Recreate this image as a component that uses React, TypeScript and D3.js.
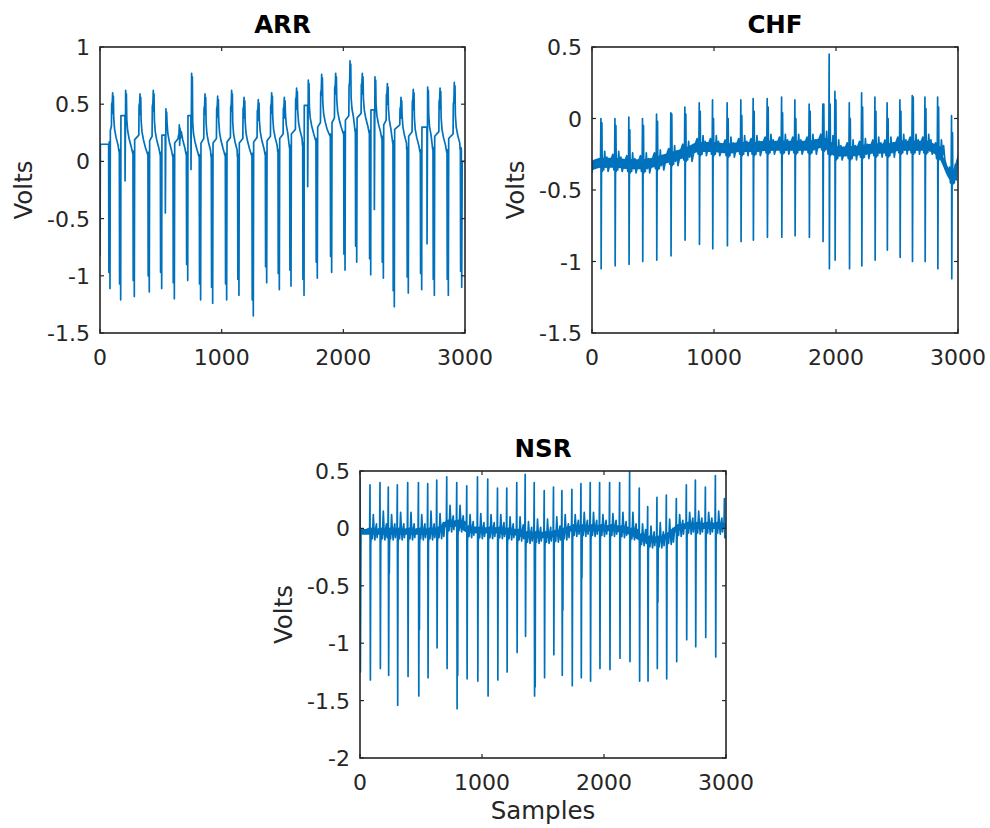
import React from 'react';
import * as d3 from 'd3';

type Pt = [number, number];

const BLUE = '#0072BD';
const INK = '#262626';
const FONT = '"DejaVu Sans", sans-serif';

const xTicks = [0, 1000, 2000, 3000];
const arrYTicks = [-1.5, -1, -0.5, 0, 0.5, 1];
const chfYTicks = [-1.5, -1, -0.5, 0, 0.5];
const nsrYTicks = [-2, -1.5, -1, -0.5, 0, 0.5];

// ---- ARR: one entry per beat (trough first, then the positive peak)
const arrStartV = -0.83;
const arrEndV = 0.0;
const arrTroughAt = [82, 170, 282, 405, 507, 611, 721, 827, 926, 1041, 1142, 1260, 1370, 1474, 1570, 1677, 1786, 1904, 2014, 2110, 2225, 2329, 2419, 2534, 2644, 2748, 2863, 2973];
const arrTroughV = [-1.11, -1.21, -1.18, -1.14, -1.11, -1.2, -1.04, -1.21, -1.24, -1.21, -1.17, -1.35, -1.06, -1.12, -1.09, -1.17, -1.02, -0.97, -0.95, -0.88, -0.99, -1.02, -1.27, -1.15, -1.12, -1.17, -1.17, -1.1];
const arrPeakAt = [104, 211, 329, 438, 542, 652, 753, 863, 967, 1082, 1184, 1301, 1411, 1515, 1616, 1712, 1822, 1937, 2055, 2156, 2260, 2362, 2474, 2575, 2693, 2795, 2912];
const arrPeakV = [0.6, 0.62, 0.59, 0.62, 0.46, 0.32, 0.77, 0.59, 0.57, 0.62, 0.56, 0.54, 0.6, 0.56, 0.64, 0.71, 0.76, 0.77, 0.88, 0.77, 0.74, 0.68, 0.56, 0.63, 0.65, 0.64, 0.69];
const arrNotchHi: (number | null)[] = [null, 0.4, null, null, 0.23, null, 0.4, null, null, null, null, null, null, null, null, 0.49, null, null, null, null, 0.45, null, null, null, 0.3, null, null, null];
const arrNotchLo: (number | null)[] = [null, -0.17, null, null, -0.45, null, -0.07, null, null, null, null, null, null, null, null, -0.22, null, null, null, null, -0.42, null, null, null, -0.72, null, null, null];
const arrRest = [0.15, 0.08, 0.07, 0.06, 0.06, 0.04, 0.06, 0.04, 0.04, 0.05, 0.04, 0.05, 0.06, 0.08, 0.12, 0.14, 0.18, 0.22, 0.24, 0.26, 0.25, 0.2, 0.16, 0.1, 0.08, 0.1, 0.08, 0.1];

// ---- CHF
const chfStartV = -0.38;
const chfEndV = -0.28;
const chfBeatAt = [74, 189, 303, 415, 530, 647, 762, 880, 989, 1109, 1221, 1322, 1437, 1555, 1664, 1781, 1893, 1945, 1992, 2110, 2211, 2320, 2420, 2525, 2626, 2730, 2834, 2948];
const chfPeakV = [0.0, 0.0, 0.01, 0.0, 0.03, 0.04, 0.08, 0.11, 0.13, 0.11, 0.13, 0.14, 0.14, 0.15, 0.13, 0.1, 0.1, 0.45, 0.19, 0.11, 0.18, 0.15, 0.11, 0.13, 0.16, 0.15, 0.15, 0.02];
const chfSecondV = [-0.03, -0.05, -0.08, -0.05, -0.02, 0.03, 0.03, 0.05, 0.0, 0.0, 0.02, 0.05, 0.08, 0.04, 0.0, 0.05, 0.1, 0.1, 0.13, 0.0, 0.08, 0.05, 0.0, 0.05, 0.15, 0.07, 0.08, -0.1];
const chfTroughV = [-1.05, -1.03, -1.02, -1.0, -0.99, -0.96, -0.85, -0.88, -0.91, -0.89, -0.86, -0.85, -0.83, -0.83, -0.82, -0.83, -0.86, -1.05, -0.99, -1.05, -1.03, -0.99, -0.92, -0.97, -1.0, -1.0, -1.05, -1.12];
const chfBase = [-0.31, -0.31, -0.32, -0.32, -0.3, -0.27, -0.24, -0.2, -0.2, -0.21, -0.2, -0.2, -0.19, -0.19, -0.19, -0.19, -0.17, -0.2, -0.23, -0.23, -0.22, -0.21, -0.21, -0.19, -0.19, -0.19, -0.23, -0.4];

// ---- NSR
const nsrStartHi = 0.45;
const nsrStartLo = -1.25;
const nsrBeatAt = [82, 164, 232, 306, 391, 479, 555, 629, 711, 793, 875, 963, 1047, 1127, 1203, 1285, 1354, 1428, 1510, 1586, 1655, 1737, 1811, 1887, 1964, 2046, 2128, 2210, 2289, 2358, 2434, 2511, 2593, 2675, 2749, 2831, 2913, 2987];
const nsrPeakV = [0.38, 0.4, 0.36, 0.38, 0.4, 0.4, 0.39, 0.42, 0.45, 0.4, 0.37, 0.45, 0.43, 0.35, 0.35, 0.4, 0.47, 0.4, 0.33, 0.36, 0.33, 0.34, 0.39, 0.4, 0.4, 0.4, 0.4, 0.5, 0.35, 0.19, 0.27, 0.29, 0.26, 0.38, 0.42, 0.36, 0.46, 0.26];
const nsrTroughV = [-1.32, -1.22, -1.28, -1.54, -1.29, -1.46, -1.3, -1.04, -1.22, -1.57, -1.31, -1.33, -1.46, -1.32, -1.25, -1.08, -0.94, -1.46, -1.3, -1.1, -1.28, -1.37, -1.3, -1.33, -1.22, -1.23, -1.13, -1.16, -1.33, -1.33, -1.22, -1.31, -1.16, -0.97, -1.03, -0.95, -1.12, -0.08];
const nsrNotch: (number | null)[] = [null, null, -0.39, null, null, -0.88, null, null, null, -1.28, null, null, null, null, null, null, null, -1.38, null, null, -0.71, null, -0.43, null, null, null, null, null, null, null, -0.64, null, null, null, null, null, null, null];
const nsrBase = [-0.03, -0.03, -0.03, -0.03, -0.03, -0.03, -0.03, -0.02, 0.04, 0.04, -0.01, -0.02, -0.02, -0.02, -0.03, -0.04, -0.06, -0.06, -0.06, -0.05, -0.03, 0.0, 0.0, 0.0, 0.0, 0.0, -0.01, -0.03, -0.08, -0.1, -0.1, -0.07, 0.0, 0.02, 0.02, 0.02, 0.02, 0.02];
const nsrT = [0.12, 0.15, 0.12, 0.14, 0.14, 0.12, 0.15, 0.13, 0.2, 0.2, 0.12, 0.13, 0.12, 0.12, 0.1, 0.1, 0.06, 0.08, 0.08, 0.1, 0.12, 0.12, 0.14, 0.14, 0.12, 0.13, 0.14, 0.14, 0.04, 0.02, 0.05, 0.08, 0.12, 0.14, 0.15, 0.14, 0.15, 0.1];

function arrSeries(): Pt[] {
  const pts: Pt[] = [[0, arrStartV], [3, arrRest[0]]];
  arrTroughAt.forEach((t, i) => {
    const r0 = arrRest[i];
    const tv = arrTroughV[i];
    // the drop is drawn twice, a few samples apart, as the trace shows
    pts.push([t - 11, r0], [t - 9, tv + 0.14], [t - 6, r0 + 0.02], [t - 3, r0], [t, tv]);
    if (i >= arrPeakAt.length) {
      pts.push([t + 4, arrEndV], [3000, arrEndV]);
      return;
    }
    const p = arrPeakAt[i];
    const pv = arrPeakV[i];
    const hi = arrNotchHi[i];
    if (hi !== null) {
      pts.push([t + 2, hi], [p - 6, hi], [p - 5, arrNotchLo[i] as number]);
    } else {
      pts.push([t + 3, r0 + 0.12], [p - 10, r0 + 0.16], [p - 8, Math.min(pv - 0.1, r0 + 0.42)], [p - 3, Math.min(pv - 0.08, r0 + 0.45)]);
    }
    const r1 = arrRest[i + 1];
    const limit = arrTroughAt[i + 1] - 13;
    pts.push([p, pv], [p + 3, pv - 0.18], [p + 6, pv - 0.03]);
    const tail: Pt[] = [[p + 9, Math.min(pv - 0.12, r1 + 0.3)], [p + 16, r1 + 0.2], [p + 28, r1 + 0.13], [p + 45, r1 + 0.06]];
    tail.forEach(q => { if (q[0] < limit) pts.push(q); });
    pts.push([limit, r1]);
  });
  return pts;
}

function chfSeries(): Pt[] {
  const pts: Pt[] = [[0, chfStartV], [4, chfBase[0]]];
  chfBeatAt.forEach((s, i) => {
    const b = chfBase[i];
    const last = i + 1 === chfBeatAt.length;
    const next = last ? 3000 : chfBeatAt[i + 1];
    const nb = last ? chfEndV : chfBase[i + 1];
    pts.push([s - 4, b], [s - 1, chfPeakV[i]], [s + 1, chfTroughV[i]], [s + 4, b], [s + 7, chfSecondV[i]], [s + 10, b - 0.06]);
    const tail: Pt[] = [
      [s + 16, b + 0.03], [s + 22, b - 0.05], [s + 30, b + 0.08], [s + 38, b - 0.03],
      [s + 48, b + 0.04], [s + 58, b - 0.06], [next - 30, nb + 0.03], [next - 18, nb + 0.06], [next - 10, nb - 0.05],
    ];
    tail.forEach(q => {
      if (q[0] > pts[pts.length - 1][0] + 3 && q[0] < next - 6) pts.push(q);
    });
    if (last) pts.push([3000, chfEndV]);
  });
  return pts;
}

function nsrSeries(): Pt[] {
  const pts: Pt[] = [[0, nsrStartHi], [3, nsrStartLo], [8, nsrBase[0]]];
  nsrBeatAt.forEach((s, i) => {
    const b = nsrBase[i];
    const last = i + 1 === nsrBeatAt.length;
    const next = last ? 3000 : nsrBeatAt[i + 1];
    pts.push([s - 3, b + 0.03], [s, nsrPeakV[i]], [s + 3, nsrTroughV[i]]);
    if (last) { pts.push([3000, nsrTroughV[i]]); return; }
    pts.push([s + 6, b - 0.1]);
    const n = nsrNotch[i];
    if (n !== null) pts.push([s + 8, n], [s + 10, b - 0.12]);
    const tail: Pt[] = [
      [s + 14, b + 0.03], [s + 19, b - 0.06], [s + 27, nsrT[i]], [s + 33, b + 0.02],
      [s + 40, b - 0.07], [s + 47, b + 0.03], [s + 53, b + 0.07], [s + 58, b - 0.05], [s + 64, b + 0.02],
    ];
    tail.forEach(q => { if (q[0] < next - 5) pts.push(q); });
  });
  return pts;
}

function bandOf(at: number[], base: number[], startV: number, endV: number): Pt[] {
  return [[0, startV] as Pt, ...at.map((s, i) => [s, base[i]] as Pt), [3000, endV] as Pt];
}

interface PanelProps {
  id: string;
  x0: number; y0: number; w: number; h: number;
  yDomain: [number, number];
  yTicks: number[];
  title: string;
  series: Pt[];
  band?: Pt[];
  hw?: number;
  xLabel?: string;
}

function Panel({ id, x0, y0, w, h, yDomain, yTicks, title, series, band, hw = 0.05, xLabel }: PanelProps) {
  const x = d3.scaleLinear().domain([0, 3000]).range([x0, x0 + w]);
  const y = d3.scaleLinear().domain(yDomain).range([y0 + h, y0]);
  const line = d3.line<Pt>().x(d => x(d[0])).y(d => y(d[1]));
  const area = d3.area<Pt>()
    .x(d => x(d[0]))
    .y0(d => y(d[1] - hw))
    .y1(d => y(d[1] + hw))
    .curve(d3.curveMonotoneX);
  const tk = 4;

  return (
    <g>
      <clipPath id={id}>
        <rect x={x0} y={y0} width={w} height={h} />
      </clipPath>
      <g clipPath={`url(#${id})`}>
        {band && <path d={area(band) ?? ''} fill={BLUE} />}
        <path d={line(series) ?? ''} fill="none" stroke={BLUE} strokeWidth={1.7} strokeLinejoin="round" />
      </g>
      <rect x={x0} y={y0} width={w} height={h} fill="none" stroke={INK} strokeWidth={1.6} />
      {xTicks.map(t => (
        <g key={`x${t}`}>
          <line x1={x(t)} x2={x(t)} y1={y0 + h} y2={y0 + h - tk} stroke={INK} strokeWidth={1.2} />
          <line x1={x(t)} x2={x(t)} y1={y0} y2={y0 + tk} stroke={INK} strokeWidth={1.2} />
          <text x={x(t)} y={y0 + h + 32} textAnchor="middle" fontSize={22} fill={INK}>{t}</text>
        </g>
      ))}
      {yTicks.map(t => (
        <g key={`y${t}`}>
          <line x1={x0} x2={x0 + tk} y1={y(t)} y2={y(t)} stroke={INK} strokeWidth={1.2} />
          <line x1={x0 + w} x2={x0 + w - tk} y1={y(t)} y2={y(t)} stroke={INK} strokeWidth={1.2} />
          <text x={x0 - 10} y={y(t) + 8} textAnchor="end" fontSize={22} fill={INK}>{String(t)}</text>
        </g>
      ))}
      <text x={x0 + w / 2} y={y0 - 14} textAnchor="middle" fontSize={24.5} fontWeight="bold" fill="#000">{title}</text>
      <text transform={`translate(${x0 - 68},${y0 + h / 2}) rotate(-90)`} textAnchor="middle" fontSize={24.5} fill={INK}>Volts</text>
      {xLabel && (
        <text x={x0 + w / 2} y={819} textAnchor="middle" fontSize={24.5} fill={INK}>{xLabel}</text>
      )}
    </g>
  );
}

export default function App() {
  return (
    <svg width={990} height={828} style={{ position: 'absolute', left: 0, top: 0, background: '#fff' }} fontFamily={FONT}>
      <rect width={990} height={828} fill="#fff" />
      <Panel id="c-arr" x0={100} y0={47} w={365} h={286} yDomain={[-1.5, 1]} yTicks={arrYTicks}
        title="ARR" series={arrSeries()} />
      <Panel id="c-chf" x0={592} y0={47} w={366} h={286} yDomain={[-1.5, 0.5]} yTicks={chfYTicks}
        title="CHF" series={chfSeries()} band={bandOf(chfBeatAt, chfBase, chfStartV + 0.05, chfEndV)} hw={0.035} />
      <Panel id="c-nsr" x0={360} y0={471} w={366} h={287} yDomain={[-2, 0.5]} yTicks={nsrYTicks}
        title="NSR" series={nsrSeries()} band={bandOf(nsrBeatAt, nsrBase, nsrBase[0], nsrBase[nsrBase.length - 1])} hw={0.025}
        xLabel="Samples" />
    </svg>
  );
}
